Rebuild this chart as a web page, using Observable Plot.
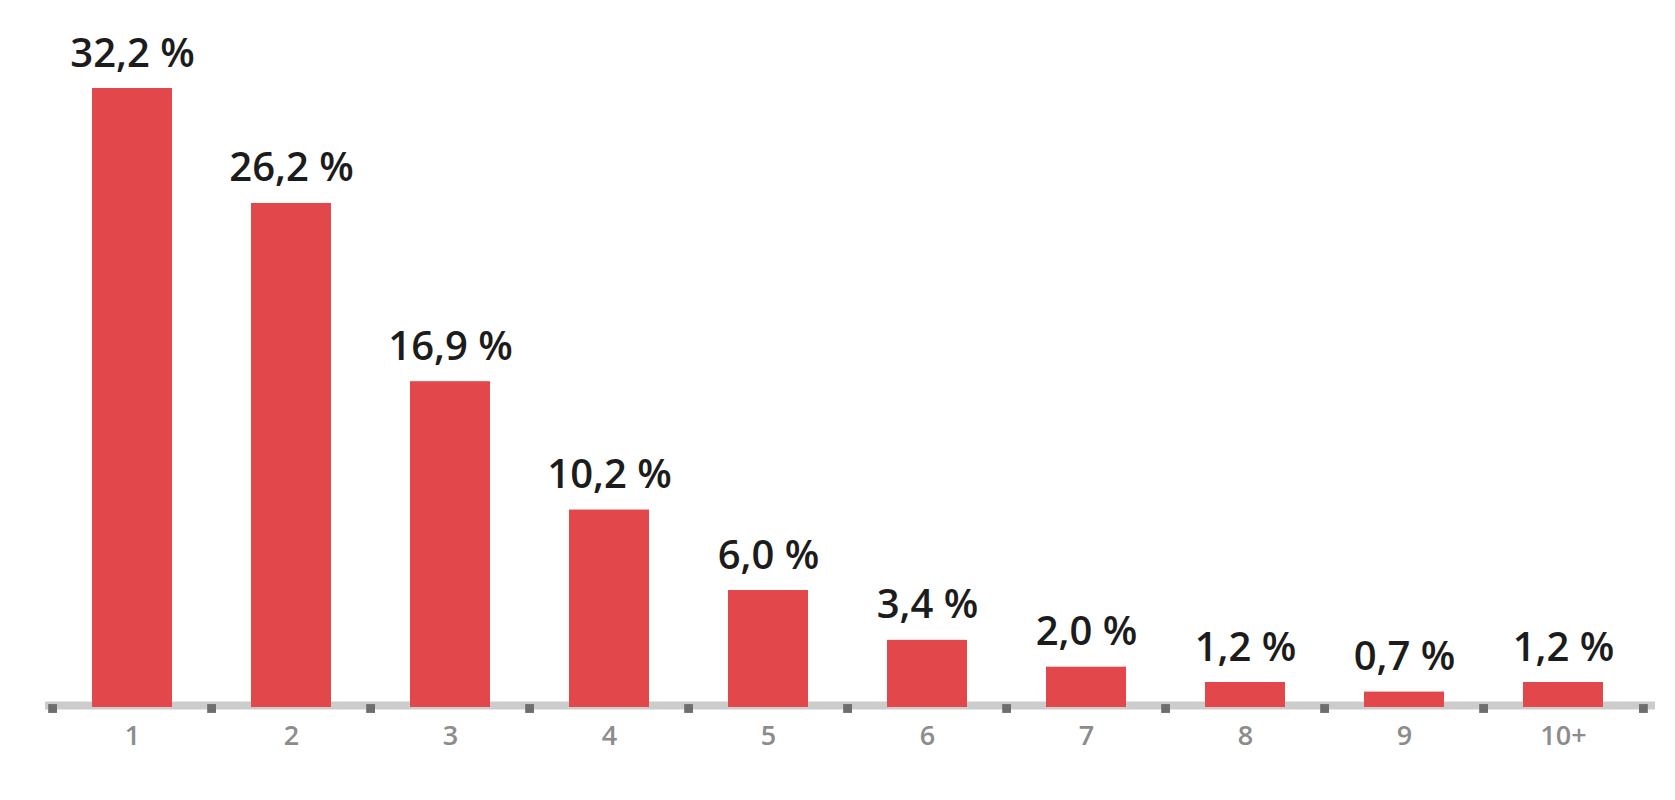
<!DOCTYPE html>
<html>
<head>
<meta charset="utf-8">
<script src="https://cdn.jsdelivr.net/npm/d3@7"></script>
<script src="https://cdn.jsdelivr.net/npm/@observablehq/plot@0.6"></script>
<style>
  html, body { margin: 0; padding: 0; background: #ffffff; }
  #chart { width: 1675px; height: 800px; }
</style>
</head>
<body>
<div id="chart"></div>
<script>
const categories = ["1", "2", "3", "4", "5", "6", "7", "8", "9", "10+"];
const shares = [32.2, 26.2, 16.9, 10.2, 6.0, 3.4, 2.0, 1.2, 0.7, 1.2];

const data = categories.map((c, i) => ({category: c, value: shares[i]}));
const fmt = v => v.toFixed(1).replace(".", ",") + " %";

const W = 1675, H = 800;
const mL = 48, mR = 29, mT = 88, mB = 95;
const halfStep = (W - mL - mR) / categories.length / 2;

const boundaries = categories.map(c => ({category: c, dx: -halfStep}))
  .concat([{category: categories[categories.length - 1], dx: halfStep}]);

const chart = Plot.plot({
  width: W,
  height: H,
  marginLeft: mL,
  marginRight: mR,
  marginTop: mT,
  marginBottom: mB,
  style: {fontFamily: "'Open Sans', sans-serif", background: "#ffffff"},
  x: {type: "band", domain: categories, paddingInner: 0.5, paddingOuter: 0.25, label: null},
  y: {domain: [0, 32.2], nice: false, axis: null},
  marks: [
    Plot.ruleY([0], {stroke: "#cccccc", strokeWidth: 8, insetLeft: -3, insetRight: -9}),
    Plot.barY(data, {x: "category", y: "value", fill: "#e2474b", insetBottom: -2}),
    Plot.dot(boundaries.filter(d => d.dx < 0), {x: "category", y: () => 0, symbol: "square", r: 5, fill: "#6e6e6e", dx: -halfStep, dy: 3}),
    Plot.dot(boundaries.filter(d => d.dx > 0), {x: "category", y: () => 0, symbol: "square", r: 5, fill: "#6e6e6e", dx: halfStep, dy: 3}),
    Plot.text(data, {x: "category", y: "value", text: d => fmt(d.value), lineAnchor: "bottom", dy: -22, fontSize: 40, fontWeight: 600, fill: "#1c1c1c"}),
    Plot.axisX({tickSize: 0, tickPadding: 20, fontSize: 27, fontWeight: 600, fill: "#8c8c8c", label: null})
  ]
});
document.getElementById("chart").appendChild(chart);
</script>
</body>
</html>
